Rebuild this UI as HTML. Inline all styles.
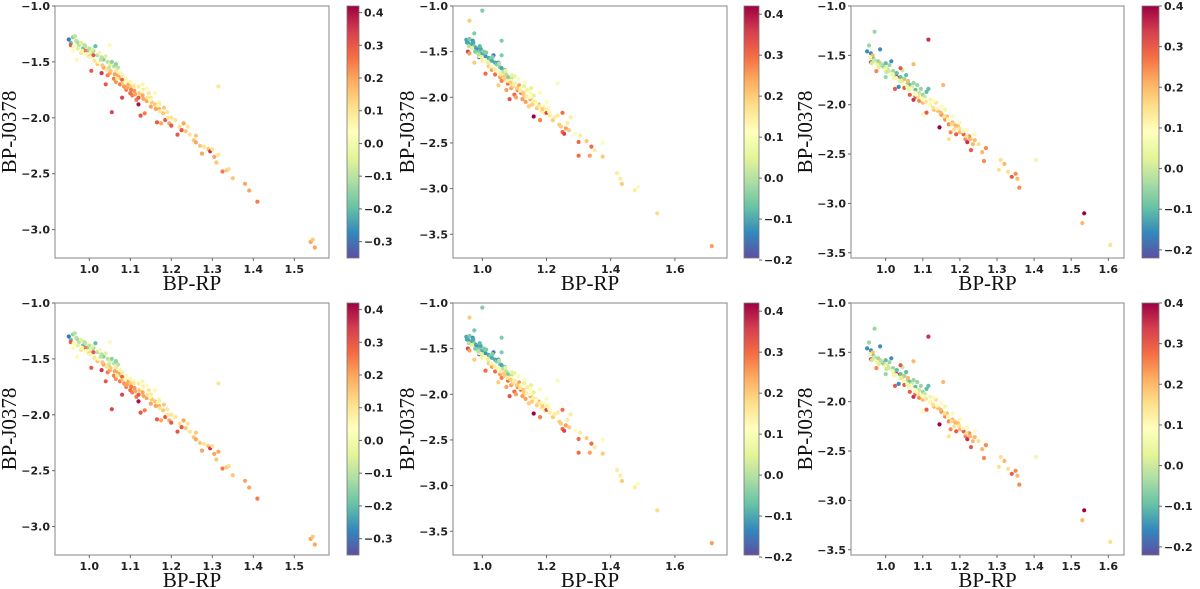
<!DOCTYPE html>
<html><head><meta charset="utf-8"><style>
html,body{margin:0;padding:0;background:#fff;}
svg{display:block;}
.tk{font-family:"DejaVu Sans","Liberation Sans",sans-serif;font-size:11px;font-weight:bold;fill:#222;}
.al{font-family:"Liberation Serif","DejaVu Serif",serif;font-size:21px;fill:#111;}
</style></head><body>
<svg id="fig" width="1200" height="589" viewBox="0 0 1200 589" xmlns="http://www.w3.org/2000/svg">
<defs>
<linearGradient id="spec" x1="0" y1="1" x2="0" y2="0">
<stop offset="0" stop-color="#5e4fa2"/><stop offset="0.1" stop-color="#3288bd"/><stop offset="0.2" stop-color="#66c2a5"/><stop offset="0.3" stop-color="#abdda4"/><stop offset="0.4" stop-color="#e6f598"/><stop offset="0.5" stop-color="#ffffbf"/><stop offset="0.6" stop-color="#fee08b"/><stop offset="0.7" stop-color="#fdae61"/><stop offset="0.8" stop-color="#f46d43"/><stop offset="0.9" stop-color="#d53e4f"/><stop offset="1" stop-color="#9e0142"/>
</linearGradient>
</defs>
</svg>
<script>
// ---- data: column A (panels 1 & 4) ----
const aX=[0.95,0.955,0.96,0.965,0.97,0.975,0.98,0.985,0.99,0.995,1.0,1.005,1.01,1.015,1.02,1.025,1.03,1.035,1.04,1.045,1.05,1.055,1.06,1.065,1.07,1.05,
0.955,0.96,0.97,0.98,0.99,1.0,1.005,1.01,1.02,1.03,1.035,1.04,1.045,1.05,1.055,1.06,1.065,1.07,1.075,1.08,1.08,1.085,1.09,1.095,1.10,1.10,1.105,1.11,1.115,1.12,1.12,1.125,1.13,1.13,1.135,1.14,1.145,1.15,1.15,1.16,1.16,1.165,1.17,1.17,1.175,1.18,1.185,1.19,1.195,1.20,1.20,
1.08,1.09,1.10,1.11,1.12,1.13,1.14,1.17,1.065,1.075,
1.21,1.215,1.22,1.225,1.23,1.235,1.24,1.245,1.255,1.26,1.26,1.27,1.275,1.28,1.29,1.295,1.30,1.305,1.31,1.315,1.315,1.325,1.335,1.34,1.35,1.38,1.39,1.41,1.54,1.545,1.55,
0.962,0.972,0.982,0.992,1.002,1.012,1.022,1.032,1.042,1.052,1.062,1.072,1.082,1.092,1.102,1.112,1.122,1.132,1.142,1.152,1.162,1.172,1.182,1.192,0.968,0.988,1.008,1.028,1.048,1.068,1.088,1.108,1.128,1.148,1.168];
const aY=[-1.30,-1.33,-1.28,-1.27,-1.32,-1.35,-1.33,-1.38,-1.36,-1.40,-1.38,-1.42,-1.40,-1.36,-1.44,-1.42,-1.46,-1.48,-1.45,-1.50,-1.52,-1.50,-1.54,-1.52,-1.55,-1.35,
-1.35,-1.40,-1.48,-1.42,-1.40,-1.45,-1.58,-1.44,-1.52,-1.60,-1.55,-1.70,-1.62,-1.60,-1.95,-1.65,-1.68,-1.62,-1.70,-1.66,-1.82,-1.72,-1.75,-1.70,-1.78,-1.72,-1.80,-1.76,-1.84,-1.88,-1.82,-1.98,-1.80,-1.75,-1.96,-1.85,-1.78,-1.90,-1.82,-1.88,-1.78,-2.04,-1.92,-1.86,-2.05,-1.96,-2.02,-1.95,-2.05,-2.07,-2.00,
-1.62,-1.65,-1.68,-1.70,-1.72,-1.70,-1.74,-1.88,-1.58,-1.60,
-2.02,-2.15,-2.08,-2.11,-2.05,-2.12,-2.08,-2.15,-2.20,-2.22,-2.16,-2.25,-2.32,-2.26,-2.28,-2.30,-2.28,-2.35,-2.40,-2.33,-1.72,-2.48,-2.47,-2.46,-2.54,-2.59,-2.65,-2.75,-3.11,-3.09,-3.16,
-1.36,-1.38,-1.40,-1.43,-1.46,-1.49,-1.50,-1.53,-1.57,-1.58,-1.61,-1.64,-1.69,-1.73,-1.75,-1.79,-1.78,-1.83,-1.82,-1.86,-1.92,-1.94,-1.91,-2.00,-1.31,-1.35,-1.39,-1.48,-1.55,-1.65,-1.68,-1.72,-1.76,-1.84,-1.89];
const aC=[-0.3,-0.2,-0.15,-0.1,-0.15,-0.1,-0.05,-0.2,-0.1,-0.15,-0.1,-0.05,-0.15,-0.2,-0.1,0.0,-0.1,-0.15,-0.05,-0.1,-0.05,-0.15,-0.1,-0.15,-0.1,0.05,
0.3,0.05,0.05,0.1,0.25,0.15,0.3,0.3,0.15,0.35,0.2,0.3,0.25,0.2,0.33,0.25,0.22,0.2,0.25,0.28,0.33,0.22,0.25,0.2,0.27,0.15,0.25,0.22,0.25,0.4,0.3,0.3,0.2,0.1,0.25,0.2,0.1,0.2,0.1,0.15,0.05,0.3,0.2,0.05,0.2,0.15,0.3,0.1,0.2,0.3,0.1,
0.08,0.05,0.0,0.05,0.08,0.0,0.05,-0.05,0.1,0.0,
0.1,0.3,0.1,0.3,0.2,0.15,0.1,0.1,0.15,0.2,0.15,0.15,0.2,0.1,0.15,0.35,0.1,0.2,0.15,0.1,0.1,0.25,0.15,0.12,0.15,0.2,0.2,0.25,0.2,0.15,0.2,
0.05,-0.05,0.0,0.05,0.0,0.1,0.05,0.15,0.1,0.15,0.2,0.2,0.15,0.2,0.25,0.2,0.15,0.2,0.1,0.15,0.2,0.1,0.15,0.1,-0.1,-0.1,-0.05,-0.1,-0.08,-0.05,0.05,0.1,0.05,0.05,0.0];
const dC=aC.map((c,i)=> i===aC.length-47 ? 0.2 : c); // bottom-left panel colours (outlier at 1.315 is orange)
// ---- data: column B (panels 2 & 5) ----
const bX=[0.95,0.955,0.96,0.965,0.97,0.975,0.98,0.985,0.99,0.995,1.0,1.005,1.01,1.02,1.025,1.03,1.035,1.04,1.045,1.05,1.055,1.06,1.065,1.07,1.075,1.08,1.09,1.10,0.99,1.0,0.96,0.975,1.06,1.06,
0.955,0.96,0.975,0.99,1.0,1.01,1.02,1.03,1.04,1.05,1.055,1.06,1.07,1.075,1.08,1.085,1.09,1.095,1.10,1.105,1.11,1.115,1.12,1.125,1.13,1.135,1.14,1.145,1.15,1.155,1.16,1.165,1.17,1.175,1.18,1.185,1.19,1.195,1.2,1.205,1.21,1.22,1.225,
1.09,1.10,1.12,1.13,1.15,1.16,1.18,1.2,1.235,1.05,
1.235,1.24,1.245,1.25,1.25,1.255,1.26,1.265,1.27,1.275,1.29,1.30,1.30,1.305,1.325,1.335,1.34,1.35,1.375,1.375,1.42,1.43,1.435,1.475,1.485,1.545,1.715,
0.958,0.968,0.978,0.988,0.998,1.008,1.018,1.028,1.038,1.048,1.058,1.068,1.078,1.088,1.098,1.108,1.118,1.128,1.138,1.148,1.158,1.168,1.178,1.188,1.198,1.208,0.952,0.972,0.992,1.012,1.032,1.052,1.072,1.092,1.112,1.132,1.152];
const bY=[-1.37,-1.40,-1.36,-1.42,-1.38,-1.44,-1.46,-1.48,-1.50,-1.47,-1.52,-1.50,-1.55,-1.57,-1.58,-1.60,-1.54,-1.62,-1.64,-1.62,-1.67,-1.68,-1.72,-1.70,-1.75,-1.78,-1.80,-1.77,-1.56,-1.05,-1.16,-1.30,-1.38,-1.54,
-1.50,-1.52,-1.62,-1.55,-1.60,-1.74,-1.66,-1.70,-1.75,-1.87,-1.78,-1.82,-1.80,-1.92,-1.85,-2.02,-1.90,-1.88,-1.97,-2.00,-1.92,-1.87,-1.95,-2.02,-1.98,-2.05,-1.92,-2.10,-2.02,-2.08,-2.21,-2.05,-2.12,-2.08,-2.25,-2.15,-2.10,-2.18,-2.17,-2.12,-2.20,-2.25,-2.22,
-1.82,-1.85,-1.90,-1.88,-1.95,-1.98,-1.95,-2.05,-1.85,-1.72,
-2.20,-2.30,-2.32,-2.17,-2.38,-2.40,-2.34,-2.28,-2.36,-2.22,-2.40,-2.49,-2.64,-2.42,-2.48,-2.64,-2.54,-2.58,-2.50,-2.65,-2.83,-2.89,-2.95,-3.02,-2.98,-3.27,-3.63,
-1.44,-1.46,-1.50,-1.53,-1.56,-1.60,-1.62,-1.66,-1.69,-1.72,-1.75,-1.77,-1.82,-1.84,-1.86,-1.90,-1.93,-1.95,-1.99,-2.00,-2.04,-2.07,-2.10,-2.13,-2.13,-2.16,-1.40,-1.40,-1.44,-1.51,-1.56,-1.63,-1.71,-1.76,-1.80,-1.84,-1.90];
const bC=[-0.1,-0.1,-0.05,-0.1,-0.12,-0.05,-0.1,-0.12,-0.05,-0.1,-0.1,-0.05,-0.12,-0.1,-0.05,-0.1,-0.15,-0.1,-0.05,-0.12,-0.05,-0.1,0.0,-0.05,0.0,-0.05,0.0,0.05,-0.2,-0.05,0.2,-0.05,-0.05,-0.05,
0.35,0.25,0.2,0.1,0.15,0.3,0.2,0.25,0.3,0.2,0.25,0.28,0.2,0.25,0.3,0.33,0.25,0.2,0.3,0.25,0.28,0.25,0.3,0.25,0.2,0.25,0.15,0.2,0.25,0.2,0.42,0.15,0.2,0.25,0.28,0.15,0.1,0.15,0.35,0.1,0.15,0.2,0.15,
0.1,0.05,0.1,0.05,0.1,0.05,0.1,0.1,0.1,0.05,
0.15,0.2,0.2,0.3,0.3,0.35,0.25,0.15,0.2,0.15,0.1,0.3,0.3,0.15,0.2,0.25,0.3,0.15,0.1,0.2,0.15,0.15,0.2,0.15,0.1,0.18,0.25,
0.0,0.05,-0.05,0.0,0.05,0.1,0.05,0.1,0.15,0.1,0.15,0.2,0.15,0.2,0.15,0.2,0.15,0.2,0.15,0.1,0.15,0.1,0.15,0.2,0.15,0.1,-0.1,-0.1,-0.08,-0.05,-0.05,0.0,0.05,0.05,0.1,0.1,0.05];
// ---- data: column C (panels 3 & 6) ----
const cX=[0.95,0.955,0.96,0.965,0.97,0.975,0.98,0.985,0.99,0.995,1.0,1.005,1.01,1.015,1.02,1.025,1.03,1.035,1.04,1.045,1.05,1.055,1.06,1.065,1.07,1.075,1.08,1.085,1.09,1.095,1.10,1.105,1.11,1.115,1.12,0.97,1.0,
0.96,0.965,0.975,0.985,1.0,1.025,1.03,1.04,1.045,1.05,1.06,1.065,1.075,1.075,1.08,1.09,1.10,1.11,1.115,1.12,1.13,1.135,1.14,1.145,1.15,1.155,1.16,1.165,1.17,1.175,1.18,1.185,1.19,1.195,1.20,1.21,1.215,1.22,1.225,1.23,1.235,1.24,1.25,1.26,1.265,1.27,
1.13,1.15,1.16,1.18,1.2,1.22,1.17,1.24,1.1,
1.305,1.31,1.32,1.33,1.34,1.35,1.355,1.36,1.405,1.535,1.53,1.605,
0.958,0.968,0.978,0.988,0.998,1.008,1.018,1.028,1.038,1.048,1.058,1.068,1.078,1.088,1.098,1.108,1.118,1.128,1.138,1.148,1.158,1.168,1.178,1.188,1.198,1.208,1.218,1.228,0.962,0.982,1.002,1.022,1.042,1.062,1.082,1.102];
const cY=[-1.46,-1.40,-1.48,-1.52,-1.55,-1.58,-1.56,-1.44,-1.60,-1.62,-1.58,-1.64,-1.60,-1.56,-1.66,-1.70,-1.68,-1.82,-1.72,-1.65,-1.74,-1.70,-1.78,-1.80,-1.82,-1.78,-1.85,-1.80,-1.88,-1.84,-1.90,-1.92,-1.87,-1.84,-1.95,-1.26,-1.72,
-1.57,-1.50,-1.66,-1.58,-1.63,-1.84,-1.72,-1.63,-1.75,-1.83,-1.76,-1.90,-1.59,-1.95,-1.92,-1.96,-1.98,-2.08,-1.34,-2.00,-2.05,-1.98,-2.06,-2.23,-2.10,-1.80,-2.15,-2.12,-2.20,-2.28,-2.18,-2.25,-2.30,-2.22,-2.28,-2.30,-2.35,-2.38,-2.32,-2.46,-2.40,-2.36,-2.40,-2.48,-2.57,-2.44,
-1.96,-2.02,-2.05,-2.12,-2.18,-2.26,-2.35,-2.30,-2.10,
-2.66,-2.56,-2.60,-2.68,-2.73,-2.70,-2.75,-2.84,-2.56,-3.10,-3.20,-3.42,
-1.52,-1.55,-1.60,-1.59,-1.64,-1.66,-1.69,-1.73,-1.76,-1.79,-1.82,-1.84,-1.88,-1.92,-1.94,-1.97,-2.00,-2.03,-2.04,-2.08,-2.12,-2.15,-2.20,-2.21,-2.24,-2.27,-2.32,-2.35,-1.58,-1.62,-1.67,-1.73,-1.76,-1.85,-1.90,-1.95];
const cC=[-0.15,-0.05,-0.15,-0.1,-0.05,0.05,-0.05,-0.15,-0.1,-0.05,-0.1,0.0,-0.05,-0.15,-0.05,0.0,-0.1,-0.15,-0.1,0.0,-0.05,-0.1,-0.05,-0.1,0.0,-0.05,-0.1,-0.05,0.0,-0.05,-0.05,0.0,-0.1,-0.1,0.05,-0.05,-0.05,
0.35,0.2,0.25,0.2,0.15,0.3,0.35,0.3,0.2,0.3,0.2,0.3,0.2,0.35,0.3,0.25,0.2,0.3,0.35,0.15,0.2,0.15,0.2,0.4,0.25,0.2,0.25,0.2,0.25,0.25,0.2,0.15,0.3,0.2,0.2,0.3,0.25,0.35,0.25,0.3,0.2,0.2,0.15,0.2,0.25,0.25,
0.1,0.1,0.05,0.1,0.1,0.1,0.15,0.1,0.1,
0.15,0.15,0.2,0.15,0.3,0.25,0.2,0.25,0.05,0.4,0.2,0.15,
0.05,0.0,0.05,-0.02,0.05,0.0,0.05,0.1,0.05,0.1,0.05,0.1,0.1,0.15,0.1,0.15,0.1,0.15,0.1,0.2,0.15,0.1,0.15,0.2,0.15,0.1,0.15,0.2,0.0,0.02,0.0,0.05,0.02,0.05,0.08,0.1];
// ---- ticks ----
const xTicksA=[1.0,1.1,1.2,1.3,1.4,1.5];
const yTicksA=[-1.0,-1.5,-2.0,-2.5,-3.0];
const cTicksA=[-0.3,-0.2,-0.1,0.0,0.1,0.2,0.3,0.4];
const xTicksB=[1.0,1.2,1.4,1.6];
const yTicksB=[-1.0,-1.5,-2.0,-2.5,-3.0,-3.5];
const cTicksB=[-0.2,-0.1,0.0,0.1,0.2,0.3,0.4];
const xTicksC=[1.0,1.1,1.2,1.3,1.4,1.5,1.6];
const yTicksC=[-1.0,-1.5,-2.0,-2.5,-3.0,-3.5];
const cTicksC=[-0.2,-0.1,0.0,0.1,0.2,0.3,0.4];

const NS='http://www.w3.org/2000/svg';
const svg=document.getElementById('fig');
const stops=['#5e4fa2','#3288bd','#66c2a5','#abdda4','#e6f598','#ffffbf','#fee08b','#fdae61','#f46d43','#d53e4f','#9e0142'];
function hex(h){return [1,3,5].map(i=>parseInt(h.substr(i,2),16));}
function cmap(t){t=Math.max(0,Math.min(1,t))*10;const i=Math.min(9,Math.floor(t)),f=t-i;const a=hex(stops[i]),b=hex(stops[i+1]);
return 'rgb('+a.map((v,k)=>Math.round(v+(b[k]-v)*f)).join(',')+')';}
function mk(tag,attrs,parent){const e=document.createElementNS(NS,tag);for(const k in attrs)e.setAttribute(k,attrs[k]);(parent||svg).appendChild(e);return e;}
function fmt(v){const s=Math.abs(v).toFixed(1);return (v<0?'\u2212':'')+s;}

function panel(p){
  const g=mk('g',{});
  
  
  const sx=v=>p.x1+(v-1)*p.kx, sy=v=>p.top+(-1-v)*p.ky;
  for(let i=0;i<p.xs.length;i++){
    const c=mk('circle',{cx:sx(p.xs[i]).toFixed(1),cy:sy(p.ys[i]).toFixed(1),r:2.1,fill:cmap((p.cs[i]-p.vmin)/(p.vmax-p.vmin))},g);
    
    
  }
  const fr=mk('rect',{x:p.bx0,y:p.top,width:p.bx1-p.bx0,height:p.bot-p.top,fill:'none',stroke:'#999','stroke-width':1.2},g);
  
  
  for(const v of p.xt){const X=sx(v);
    mk('line',{x1:X,x2:X,y1:p.bot,y2:p.bot+3,stroke:'#666'},g);
    const t=mk('text',{x:X,y:p.bot+15,'text-anchor':'middle',class:'tk'},g);t.textContent=v.toFixed(1);
    
    }
  for(const v of p.yt){const Y=sy(v);
    mk('line',{x1:p.bx0-3,x2:p.bx0,y1:Y,y2:Y,stroke:'#666'},g);
    const t=mk('text',{x:p.bx0-5,y:Y+4,'text-anchor':'end',class:'tk'},g);t.textContent=fmt(v);
    
    }
  const xl=mk('text',{x:(p.bx0+p.bx1)/2,y:p.bot+32,'text-anchor':'middle',class:'al'},g);xl.textContent='BP-RP';
  
  
  const yc=(p.top+p.bot)/2, yx=p.bx0-39;
  const yl=mk('text',{x:yx,y:yc,'text-anchor':'middle',class:'al',transform:'rotate(-90 '+yx+' '+yc+')'},g);yl.textContent='BP-J0378';
  
  
  const cb=mk('rect',{x:p.cb0,y:p.top,width:p.cb1-p.cb0,height:p.bot-p.top,fill:'url(#spec)',stroke:'#777','stroke-width':0.8},g);
  
  
  const cy=v=>p.bot-(v-p.vmin)/(p.vmax-p.vmin)*(p.bot-p.top);
  for(const v of p.ct){const Y=cy(v);
    mk('line',{x1:p.cb1,x2:p.cb1+3,y1:Y,y2:Y,stroke:'#666'},g);
    const t=mk('text',{x:p.cb1+5,y:Y+4,class:'tk'},g);t.textContent=fmt(v);
    
    }
}
const rows=[0,297];
rows.forEach((dy,r)=>{
  panel({name:'scatter-panel-'+(r*3+1),xs:aX,ys:aY,cs:r?dC:aC,vmin:-0.35,vmax:0.42,x1:89.3,kx:410,ky:111.8,top:6+dy,bot:258+dy,bx0:55,bx1:329,cb0:347,cb1:359,xt:xTicksA,yt:yTicksA,ct:cTicksA});
  panel({name:'scatter-panel-'+(r*3+2),xs:bX,ys:bY,cs:bC,vmin:-0.195,vmax:0.42,x1:482.3,kx:321,ky:91.3,top:6+dy,bot:258+dy,bx0:453,bx1:727,cb0:744,cb1:759,xt:xTicksB,yt:yTicksB,ct:cTicksB});
  panel({name:'scatter-panel-'+(r*3+3),xs:cX,ys:cY,cs:cC,vmin:-0.22,vmax:0.40,x1:885.7,kx:371,ky:98.7,top:6+dy,bot:258+dy,bx0:851,bx1:1124,cb0:1142,cb1:1159,xt:xTicksC,yt:yTicksC,ct:cTicksC});
});
</script>
</body></html>
